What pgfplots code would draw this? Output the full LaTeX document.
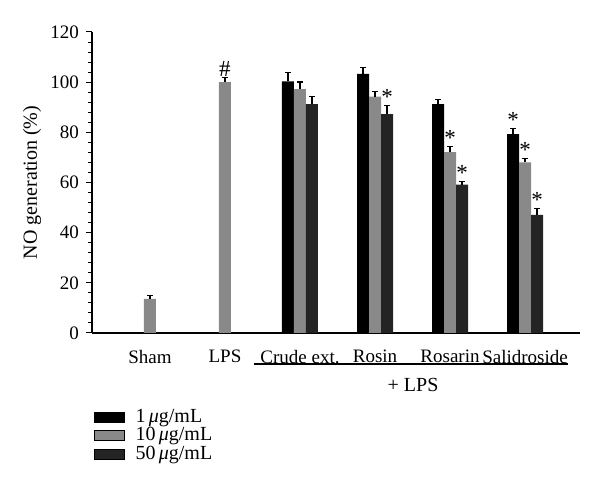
\documentclass[border=0pt]{standalone}
\usepackage{pgfplots}
\pgfplotsset{compat=1.18}
\usepackage{pgfplotstable}
\usepackage{fontspec}
\setmainfont{Liberation Serif}

\definecolor{cgray}{RGB}{137,137,137}
\definecolor{cdark}{RGB}{36,36,36}

% group position, mean, SEM (upper error)
\pgfplotstableread{
x y e
2 100.3 3.6
3 103.3 2.4
4 91.2 1.9
5 79.3 2.1
}\lowdose
\pgfplotstableread{
x y e
0 13.6 1.4
1 100.0 1.9
2 97.2 2.9
3 94.2 2.0
4 72.1 2.4
5 68.0 1.5
}\middose
\pgfplotstableread{
x y e
2 91.2 3.1
3 87.3 3.3
4 59.1 1.2
5 47.1 2.4
}\highdose

\begin{document}
\begin{tikzpicture}[font=\fontsize{10}{12}\selectfont]
\begin{axis}[
  name=ax,
  scale only axis,
  width=244pt, height=150.5pt,
  xmin=-0.773, xmax=5.733,
  ymin=0, ymax=120,
  ybar=0pt, bar width=6pt,
  axis x line=bottom, axis y line=left,
  axis line style={line width=0.8pt, -},
  xtick={0,...,5},
  xticklabels={Sham,LPS,Crude ext.,Rosin,Rosarin,Salidroside},
  x tick style={draw=none},
  xticklabel style={yshift=-2pt},
  ytick={0,20,...,120},
  minor y tick num=4,
  tick align=outside,
  major tick length=3pt, minor tick length=2pt,
  y tick style={line width=0.5pt, black},
  tick label style={font=\fontsize{9.5}{11}\selectfont},
  /pgf/number format/assume math mode=true,
  ylabel={NO generation (\%)},
  ylabel style={at={(axis description cs:-0.123,0.5)}, anchor=center},
  clip=false,
  legend style={at={(axis description cs:-0.01,-0.236)}, anchor=north west,
    draw=none, fill=none, row sep=0pt, nodes={inner sep=0.5pt},
    /tikz/every odd column/.style={column sep=5pt}},
  legend cell align=left,
  legend image code/.code={\draw[#1, draw=black, line width=0.5pt] (0pt,-2.5pt) rectangle (15pt,2.5pt);},
  every axis plot/.append style={draw=black, line width=0.5pt},
  error bars/y dir=plus, error bars/y explicit,
  error bars/error mark options={rotate=90, mark size=1.6pt, line width=0.6pt},
  error bars/error bar style={line width=0.6pt},
]
\addplot[fill=black, bar shift=-6pt] table[x=x, y=y, y error=e] {\lowdose};
\addplot[fill=cgray, bar shift=0pt] table[x=x, y=y, y error=e] {\middose};
\addplot[fill=cdark, bar shift=6pt] table[x=x, y=y, y error=e] {\highdose};
\legend{1\,\textit{μ}g/mL, 10\,\textit{μ}g/mL, 50\,\textit{μ}g/mL}

% significance marks, set at the tops of the error bars
\pgfplotsset{every axis plot/.append style={draw=none, fill=none, forget plot,
  point meta=explicit symbolic, nodes near coords,
  every node near coord/.append style={anchor=south, inner sep=0.3pt, font=\fontsize{11.5}{12}\selectfont}}}
\addplot[bar shift=-6pt, error bars/y dir=none] coordinates {(5,81.4) [*]};
\addplot[bar shift=0pt, error bars/y dir=none] coordinates {(1,101.9) [\#] (4,74.5) [*] (5,69.5) [*]};
\addplot[bar shift=6pt, error bars/y dir=none] coordinates {(3,90.6) [*] (4,60.3) [*] (5,49.5) [*]};

\draw[line width=0.6pt] ([yshift=-15.5pt]axis cs:1.387,0) -- ([yshift=-15.5pt]axis cs:5.573,0);
\node at ([yshift=-26pt]axis cs:3.507,0) {+ LPS};
\end{axis}
\pgfresetboundingbox
\path ([shift={(-46pt,-84pt)}]ax.south west) rectangle ([shift={(254pt,166.5pt)}]ax.south west);
\end{tikzpicture}
\end{document}
